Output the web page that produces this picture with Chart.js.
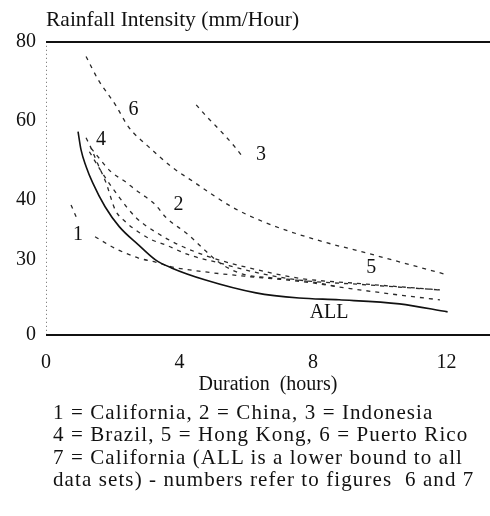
<!DOCTYPE html>
<html>
<head>
<meta charset="utf-8">
<script src="https://cdn.jsdelivr.net/npm/chart.js@4.4.0/dist/chart.umd.min.js"></script>
<style>
  html, body { margin: 0; padding: 0; background: #fff; }
  #wrap { position: relative; width: 490px; height: 516px; }
  #plot { position: absolute; left: 0; top: 0; width: 490px; height: 402px; }
  #note {
    position: absolute; left: 53px; top: 401px;
    font-family: "Liberation Serif", "Times New Roman", Tinos, "DejaVu Serif", serif;
    font-size: 21px; letter-spacing: 1.1px; line-height: 22.3px; color: #111;
    white-space: nowrap;
  }
</style>
</head>
<body>
<div id="wrap">
  <div id="plot"><canvas id="chart"></canvas></div>
  <div id="note">
    1 = California, 2 = China, 3 = Indonesia<br>
    4 = Brazil, 5 = Hong Kong, 6 = Puerto Rico<br>
    7 = California (ALL is a lower bound to all<br>
    data sets) - numbers refer to figures&nbsp; 6 and 7
  </div>
</div>
<script>
// axis ticks, as printed on the figure
const xTicks = [0, 4, 8, 12];
const yTickValues = [0, 20.5, 37, 58.5, 80];
const yTickLabels = ['0', '30', '40', '60', '80'];

// curves: [duration (h), intensity (mm/h)]
const curveAll = [[0.96, 55.5], [1.05, 50.5], [1.2, 46], [1.4, 41.5], [1.77, 35], [2.2, 29.5], [2.77, 24.6],
  [3.28, 20.5], [3.76, 18.3], [4.78, 15], [6.29, 11.5], [7.58, 10.1], [8.78, 9.6], [10.59, 8.5], [12.03, 6.3]];
const california = [[0.75, 35.5], [0.96, 31], [1.2, null], [1.47, 26.8], [2.1, 23.5], [2.77, 21.0], [3.28, 19.9],
  [3.76, 18.6], [4.78, 17.2], [6, 16], [7, 15.2], [8, 14.2], [8.78, 13.1], [10.59, 10.9], [11.8, 9.6]];
const china = [[1.35, 51], [1.56, 48.6], [1.95, 44.5], [2.38, 41.8], [2.68, 39.6], [2.98, 37.7], [3.28, 35.5],
  [3.58, 32.2], [4.27, 27.3], [4.81, 22.7], [5.17, 19.9], [5.56, 17.8], [5.98, 16.4], [6.77, 15.6], [7.49, 15.0],
  [7.97, 14.5], [8.78, 13.1]];
const indonesia = [[4.5, 62.8], [4.81, 59.6], [5.08, 57.1], [5.37, 54.3], [5.65, 51.4], [5.89, 48.6]];
const brazil = [[1.2, 53.8], [1.32, 51.6], [1.56, 46.5], [1.8, 41.5], [2.07, 34.2], [2.38, 30.9], [2.77, 28.1],
  [3.16, 26.0], [3.58, 24.6], [4.27, 21.9], [5.17, 19.7], [6.38, 16.9], [7.58, 15.0], [9.59, 13.7], [11.8, 12.3]];
const hongKong = [[1.3, 50], [1.7, 44], [2.2, 37.5], [2.7, 32], [3.3, 28], [4, 24.5], [5, 21], [6, 18.5],
  [7.58, 15.5], [9.59, 13.9], [11.8, 12.3]];
const puertoRico = [[1.2, 76], [1.56, 69.7], [2.08, 62.8], [2.47, 56.8], [3.07, 51.4], [3.76, 45.9], [4.42, 41.8],
  [5.56, 35], [6.59, 30.6], [8.09, 26], [9.59, 22.4], [12.03, 16.4]];

const curveLabels = [
  { text: '1', x: 0.96, y: 27.3 },
  { text: '2', x: 3.97, y: 35.5 },
  { text: '3', x: 6.44, y: 49.2 },
  { text: '4', x: 1.65, y: 53.3 },
  { text: '5', x: 9.74, y: 18.3 },
  { text: '6', x: 2.62, y: 61.5 },
  { text: 'ALL', x: 8.48, y: 6.0 }
];

const fontFamily = '"Liberation Serif", "Times New Roman", Tinos, "DejaVu Serif", serif';
const serif = { family: fontFamily, size: 20, weight: 'normal', lineHeight: 1.2 };
const ink = '#111';

function pts(arr) {
  return arr.map(p => ({ x: p[0], y: p[1] }));
}

function dashed(label, arr) {
  return {
    label: label,
    data: pts(arr),
    showLine: true,
    borderColor: '#2a2a2a',
    borderWidth: 1.3,
    borderDash: [4, 5],
    pointRadius: 0,
    cubicInterpolationMode: 'monotone',
    spanGaps: false
  };
}

const curveLabelPlugin = {
  id: 'curveLabels',
  afterDatasetsDraw(chart) {
    const { ctx, scales } = chart;
    ctx.save();
    ctx.font = '20px ' + fontFamily;
    ctx.fillStyle = ink;
    ctx.textAlign = 'center';
    ctx.textBaseline = 'middle';
    curveLabels.forEach(l => {
      ctx.fillText(l.text, scales.x.getPixelForValue(l.x), scales.y.getPixelForValue(l.y));
    });
    ctx.restore();
  }
};

new Chart(document.getElementById('chart'), {
  type: 'scatter',
  data: {
    datasets: [
      {
        label: 'ALL',
        data: pts(curveAll),
        showLine: true,
        borderColor: ink,
        borderWidth: 1.6,
        pointRadius: 0,
        cubicInterpolationMode: 'monotone'
      },
      dashed('1 California', california),
      dashed('2 China', china),
      dashed('3 Indonesia', indonesia),
      dashed('4 Brazil', brazil),
      dashed('5 Hong Kong', hongKong),
      dashed('6 Puerto Rico', puertoRico)
    ]
  },
  options: {
    responsive: true,
    maintainAspectRatio: false,
    animation: false,
    layout: { padding: 0 },
    plugins: {
      legend: { display: false },
      tooltip: { enabled: false },
      title: {
        display: true,
        text: 'Rainfall Intensity (mm/Hour)',
        align: 'start',
        fullSize: false,
        color: ink,
        font: { family: fontFamily, size: 21.5, weight: 'normal', lineHeight: 1.2 },
        padding: { top: 7, bottom: 9 }
      }
    },
    scales: {
      x: {
        type: 'linear',
        min: 0,
        max: 13.3,
        afterBuildTicks: s => { s.ticks = xTicks.map(v => ({ value: v })); },
        ticks: { color: ink, font: serif, padding: 16, maxRotation: 0 },
        // only the left edge gets a faint dotted line
        grid: {
          drawTicks: false,
          color: c => (c.tick && c.tick.value === 0) ? '#666' : 'rgba(0,0,0,0)',
          lineWidth: c => (c.tick && c.tick.value === 0) ? 1 : 0
        },
        border: { display: false, dash: [1, 3] },
        title: { display: true, text: 'Duration  (hours)', color: ink, font: serif, padding: { top: 0, bottom: 5 } },
        afterFit: s => { s.height = 67; }
      },
      y: {
        type: 'linear',
        min: 0,
        max: 80,
        afterBuildTicks: s => { s.ticks = yTickValues.map(v => ({ value: v })); },
        ticks: { color: ink, font: serif, padding: 10, callback: (v, i) => yTickLabels[i] },
        // solid frame lines at the bottom (0) and top (80)
        grid: {
          drawTicks: false,
          color: c => (c.tick && (c.tick.value === 0 || c.tick.value === 80)) ? ink : 'rgba(0,0,0,0)',
          lineWidth: c => (c.tick && (c.tick.value === 0 || c.tick.value === 80)) ? 2 : 0
        },
        border: { display: false },
        afterFit: s => { s.width = 46; }
      }
    }
  },
  plugins: [curveLabelPlugin]
});
</script>
</body>
</html>
